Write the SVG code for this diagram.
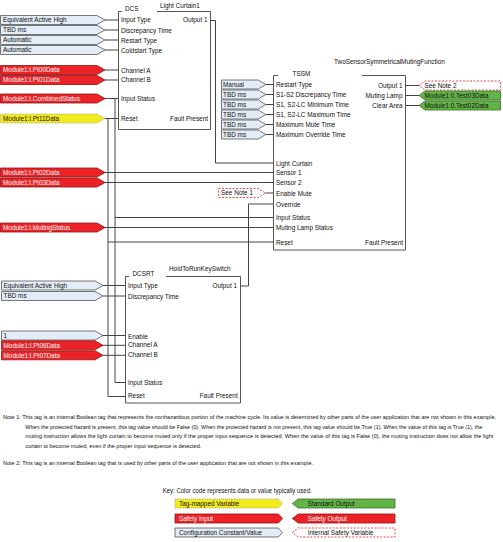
<svg xmlns="http://www.w3.org/2000/svg" width="503" height="542" viewBox="0 0 503 542">
<style>
text{font-family:'Liberation Sans Narrow','Liberation Sans',Arial,sans-serif;font-size:6.4px;fill:#111}
.w{fill:#fff}
.n{font-size:5.2px}
.cfg{fill:#e4ecf7;stroke:#555;stroke-width:.8}
.red{fill:#ec2227;stroke:#8a1515;stroke-width:.8}
.yel{fill:#f3eb1b;stroke:#999;stroke-width:.8;stroke-dasharray:1 1}
.grn{fill:#62b446;stroke:#3a6d2a;stroke-width:.8}
.dsh{fill:#fff;stroke:#e0201f;stroke-width:.8;stroke-dasharray:2 1.5}
.blk{fill:none;stroke:#555;stroke-width:1}
.wire{fill:none;stroke:#444;stroke-width:1}
.e{text-anchor:end}
</style>
<rect width="503" height="542" fill="#fff"/>
<g id="connectors">
<path class="wire" d="M105,20 H118.5 M105,30 H118.5 M105,40 H118.5 M105,50 H118.5 M105,70 H118.5 M105,80 H118.5 M105,98.5 H118.5 M105,118.5 H118.5"/>
<path class="wire" d="M210.5,20.5 H215.5 V163 H273.5"/>
<path class="wire" d="M115,98.5 V382.5 H125.5 M115,217.5 H273.5"/>
<path class="wire" d="M108,118.5 V396.5 H125.5 M108,242 H273.5"/>
<path class="wire" d="M105,172.5 H273.5 M105,182.5 H273.5 M105,227.5 H273.5 M265.5,193 H273.5"/>
<path class="wire" d="M265.7,84.5 H273.5 M265.7,94.5 H273.5 M265.7,104.5 H273.5 M265.7,114.5 H273.5 M265.7,124.5 H273.5 M265.7,134.5 H273.5"/>
<path class="wire" d="M405.5,85.5 H419 M405.5,95.5 H419 M405.5,105.5 H419"/>
<path class="wire" d="M240.5,286 H248.5 V204 H273.5"/>
<path class="wire" d="M103,285.5 H125.5 M103,296 H125.5 M103,335.5 H125.5 M103,345.3 H125.5 M103,355.3 H125.5"/>
</g>
<g id="dcs">
<path class="blk" d="M122,11.5 H118.5 V129.5 H210.5 V11.5 H157"/>
<text x="125" y="10.8">DCS</text>
<text x="160" y="7.5">Light Curtain1</text>
<text x="121" y="22">Input Type</text>
<text x="121" y="32.5">Discrepancy Time</text>
<text x="121" y="42.5">Restart Type</text>
<text x="121" y="52.5">Coldstart Type</text>
<text x="121" y="72.5">Channel A</text>
<text x="121" y="82.3">Channel B</text>
<text x="121" y="101">Input Status</text>
<text x="121" y="121">Reset</text>
<text class="e" x="207.5" y="22">Output 1</text>
<text class="e" x="208" y="121">Fault Present</text>
</g>
<g id="dcs-inputs">
<polygon class="cfg" points="0.5,15.5 97,15.5 105,20 97,24.5 0.5,24.5"/><text x="3" y="22.3">Equivalent Active High</text>
<polygon class="cfg" points="0.5,25.5 97,25.5 105,30 97,34.5 0.5,34.5"/><text x="3" y="32.3">TBD ms</text>
<polygon class="cfg" points="0.5,35.5 97,35.5 105,40 97,44.5 0.5,44.5"/><text x="3" y="42.3">Automatic</text>
<polygon class="cfg" points="0.5,45.5 97,45.5 105,50 97,54.5 0.5,54.5"/><text x="3" y="52.3">Automatic</text>
<polygon class="red" points="0.5,65.5 97,65.5 105,70 97,74.5 0.5,74.5"/><text class="w" x="3" y="72.3">Module1:I.Pt00Data</text>
<polygon class="red" points="0.5,75.5 97,75.5 105,80 97,84.5 0.5,84.5"/><text class="w" x="3" y="82.3">Module1:I.Pt01Data</text>
<polygon class="red" points="0.5,94 97,94 105,98.5 97,103 0.5,103"/><text class="w" x="3" y="100.8">Module1:I.CombinedStatus</text>
<polygon class="yel" points="0.5,114 97,114 105,118.5 97,123 0.5,123"/><text x="3" y="120.8">Module1:I.Pt11Data</text>
<polygon class="red" points="0.5,168 97,168 105,172.5 97,177 0.5,177"/><text class="w" x="3" y="174.8">Module1:I.Pt02Data</text>
<polygon class="red" points="0.5,178 97,178 105,182.5 97,187 0.5,187"/><text class="w" x="3" y="184.8">Module1:I.Pt03Data</text>
<polygon class="red" points="0.5,223 97,223 105,227.5 97,232 0.5,232"/><text class="w" x="3" y="229.8">Module1:I.MutingStatus</text>
</g>
<g id="tssm">
<path class="blk" d="M278,75.5 H273.5 V250 H405.5 V75.5 H362"/>
<text x="292.5" y="76">TSSM</text>
<text x="334" y="64">TwoSensorSymmetricalMutingFunction</text>
<text x="276" y="87">Restart Type</text>
<text x="276" y="97">S1-S2 Discrepancy Time</text>
<text x="276" y="107">S1, S2-LC Minimum Time</text>
<text x="276" y="117">S1, S2-LC Maximum Time</text>
<text x="276" y="127">Maximum Mute Time</text>
<text x="276" y="137">Maximum Override Time</text>
<text x="276" y="165.5">Light Curtain</text>
<text x="276" y="175">Sensor 1</text>
<text x="276" y="185">Sensor 2</text>
<text x="276" y="195.5">Enable Mute</text>
<text x="276" y="206.5">Override</text>
<text x="276" y="220">Input Status</text>
<text x="276" y="230">Muting Lamp Status</text>
<text x="276" y="244.5">Reset</text>
<text class="e" x="402.5" y="88">Output 1</text>
<text class="e" x="402.5" y="98">Muting Lamp</text>
<text class="e" x="402.5" y="108">Clear Area</text>
<text class="e" x="403" y="244.5">Fault Present</text>
</g>
<g id="tssm-inputs">
<polygon class="cfg" points="221.5,80 258.3,80 265.7,84.5 258.3,89 221.5,89"/><text x="223" y="86.8">Manual</text>
<polygon class="cfg" points="221.5,90 258.3,90 265.7,94.5 258.3,99 221.5,99"/><text x="223" y="96.8">TBD ms</text>
<polygon class="cfg" points="221.5,100 258.3,100 265.7,104.5 258.3,109 221.5,109"/><text x="223" y="106.8">TBD ms</text>
<polygon class="cfg" points="221.5,110 258.3,110 265.7,114.5 258.3,119 221.5,119"/><text x="223" y="116.8">TBD ms</text>
<polygon class="cfg" points="221.5,120 258.3,120 265.7,124.5 258.3,129 221.5,129"/><text x="223" y="126.8">TBD ms</text>
<polygon class="cfg" points="221.5,130 258.3,130 265.7,134.5 258.3,139 221.5,139"/><text x="223" y="136.8">TBD ms</text>
<polygon class="dsh" points="218.5,188.5 258.3,188.5 265.5,193 258.3,197.5 218.5,197.5"/><text x="221" y="195.3">See Note 1</text>
</g>
<g id="tssm-outputs">
<polygon class="dsh" points="419,85.5 425,81 500.5,81 500.5,90 425,90"/><text x="424.5" y="87.8">See Note 2</text>
<polygon class="grn" points="419,95.5 425,91 500.5,91 500.5,100 425,100"/><text x="424.5" y="97.8">Module1:0.Test03Data</text>
<polygon class="grn" points="419,105.5 425,101 500.5,101 500.5,110 425,110"/><text x="424.5" y="107.8">Module1:0.Test02Data</text>
</g>
<g id="dcsrt">
<path class="blk" d="M129,276.5 H125.5 V403 H240.5 V276.5 H166"/>
<text x="132.5" y="276">DCSRT</text>
<text x="169" y="270.5">HoldToRunKeySwitch</text>
<text x="128" y="288">Input Type</text>
<text x="128" y="299">Discrepancy Time</text>
<text x="128" y="338.5">Enable</text>
<text x="128" y="346.5">Channel A</text>
<text x="128" y="357.2">Channel B</text>
<text x="128" y="384.5">Input Status</text>
<text x="128" y="398.3">Reset</text>
<text class="e" x="237" y="288.2">Output 1</text>
<text class="e" x="237.7" y="398.3">Fault Present</text>
</g>
<g id="dcsrt-inputs">
<polygon class="cfg" points="1.5,281 95,281 103,285.5 95,290 1.5,290"/><text x="3.5" y="287.8">Equivalent Active High</text>
<polygon class="cfg" points="1.5,291.5 95,291.5 103,296 95,300.5 1.5,300.5"/><text x="3.5" y="298.3">TBD ms</text>
<polygon class="cfg" points="1.5,331 95,331 103,335.5 95,340 1.5,340"/><text x="3.5" y="337.8">1</text>
<polygon class="red" points="1.5,340.8 95,340.8 103,345.3 95,349.8 1.5,349.8"/><text class="w" x="3.5" y="347.6">Module1:I.Pt06Data</text>
<polygon class="red" points="1.5,350.8 95,350.8 103,355.3 95,359.8 1.5,359.8"/><text class="w" x="3.5" y="357.6">Module1:I.Pt07Data</text>
</g>
<g id="notes">
<text class="n" x="3" y="419" textLength="493" lengthAdjust="spacingAndGlyphs">Note 1: This tag is an internal Boolean tag that represents the nonhazardous portion of the machine cycle. Its value is determined by other parts of the user application that are not shown in this example.</text>
<text class="n" x="25.3" y="428.5" textLength="457" lengthAdjust="spacingAndGlyphs">When the protected hazard is present, this tag value should be False (0). When the protected hazard is not present, this tag value should be True (1). When the value of this tag is True (1), the</text>
<text class="n" x="25.3" y="438.3" textLength="468" lengthAdjust="spacingAndGlyphs">muting instruction allows the light curtain to become muted only if the proper input sequence is detected. When the value of this tag is False (0), the muting instruction does not allow the light</text>
<text class="n" x="25.3" y="448.3" textLength="176" lengthAdjust="spacingAndGlyphs">curtain to become muted, even if the proper input sequence is detected.</text>
<text class="n" x="3" y="464.6" textLength="310" lengthAdjust="spacingAndGlyphs">Note 2: This tag is an internal Boolean tag that is used by other parts of the user application that are not shown in this example.</text>
</g>
<g id="key">
<text x="162.7" y="493" textLength="149" lengthAdjust="spacingAndGlyphs">Key: Color code represents data or value typically used.</text>
<polygon class="yel" points="175,499 278.3,499 282.7,503.5 278.3,508 175,508"/><text x="179" y="505.8">Tag-mapped Variable</text>
<polygon class="red" points="175,514 278.3,514 282.7,518.5 278.3,523 175,523"/><text class="w" x="179" y="520.8">Safety Input</text>
<polygon class="cfg" points="175,528 278.3,528 282.7,532.5 278.3,537 175,537"/><text x="179" y="534.8">Configuration Constant/Value</text>
<polygon class="grn" points="292.3,503.5 298.3,499 395,499 395,508 298.3,508"/><text x="307.7" y="505.8">Standard Output</text>
<polygon class="red" points="292.3,518.5 298.3,514 395,514 395,523 298.3,523"/><text class="w" x="307.7" y="520.8">Safety Output</text>
<polygon class="dsh" points="292.3,532.5 298.3,528 395,528 395,537 298.3,537"/><text x="307.7" y="534.8">Internal Safety Variable</text>
</g>
</svg>
